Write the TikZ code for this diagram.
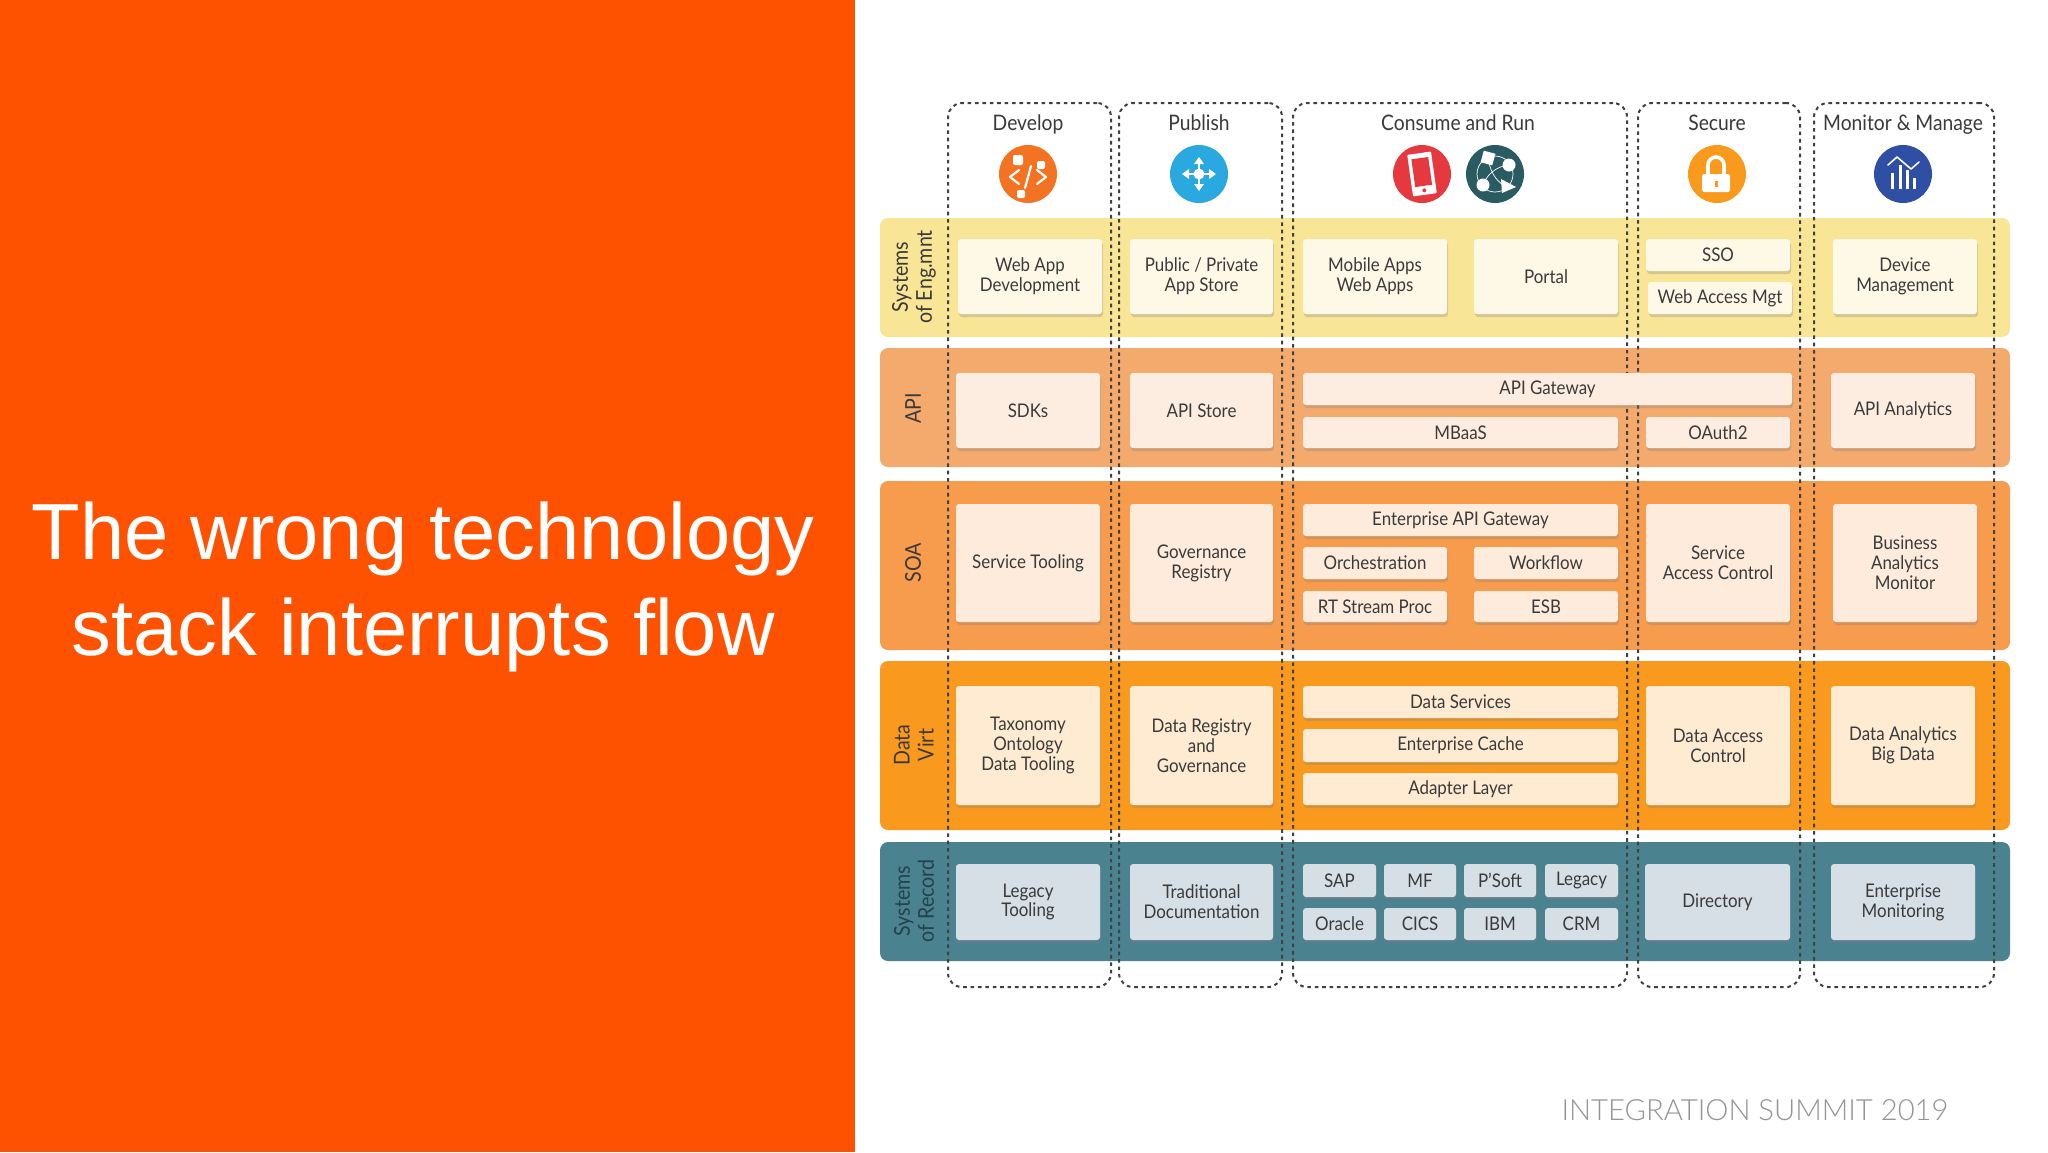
\documentclass[tikz,border=0pt]{standalone}
\usepackage{fontspec}
\setmainfont{Lato}[FakeStretch=0.9]
\newfontfamily\titlefont{Liberation Sans}
\newfontfamily\footfont{Lato Light}
\usetikzlibrary{shadows}
\definecolor{bgorange}{HTML}{FF5200}
\definecolor{ink}{HTML}{3A3A3A}
\definecolor{inkteal}{HTML}{24424C}
\definecolor{bandA}{HTML}{F9E596}
\definecolor{bandB}{HTML}{F4AA6C}
\definecolor{bandC}{HTML}{F79B4D}
\definecolor{bandD}{HTML}{F9991E}
\definecolor{bandE}{HTML}{4A8290}
\definecolor{boxA}{HTML}{FEF9E7}
\definecolor{boxB}{HTML}{FDEDE0}
\definecolor{boxC}{HTML}{FEEBDC}
\definecolor{boxD}{HTML}{FFEAD2}
\definecolor{boxE}{HTML}{D6DEE6}
\definecolor{discA}{HTML}{F47322}
\definecolor{discB}{HTML}{29A9E0}
\definecolor{discC}{HTML}{E6393F}
\definecolor{discD}{HTML}{2A5A62}
\definecolor{discE}{HTML}{F99A1C}
\definecolor{discF}{HTML}{2F4FA5}
\tikzset{
  bandrect/.style={draw=none,rounded corners=4pt,inner sep=0pt},
  colrect/.style={draw=black!75,line width=1pt,rounded corners=7pt,dash pattern=on 1.8pt off 1.9pt,inner sep=0pt},
  cellbox/.style={rounded corners=1.5pt,inner sep=0pt,align=center,text=ink,font=\fontsize{9.4}{9.9}\selectfont,
    drop shadow={shadow xshift=0.5pt,shadow yshift=-1.5pt,opacity=.3}},
  rowlabel/.style={rotate=90,align=center,text=ink,font=\fontsize{10.9}{12}\selectfont,inner sep=0pt},
  coltitle/.style={text=ink,font=\fontsize{10.7}{12}\selectfont,inner sep=0pt,anchor=base},
  disc/.style={circle,minimum size=29pt,inner sep=0pt},
  whiteline/.style={draw=white,line width=1.1pt,line cap=round,line join=round},
}
% name x1 y1 x2 y2 fill text
\newcommand{\cellnode}[7]{%
  \pgfmathsetmacro{\cxv}{(#2+#4)/2}\pgfmathsetmacro{\cyv}{(#3+#5)/2}%
  \pgfmathsetmacro{\wv}{(#4-#2)*0.5}\pgfmathsetmacro{\hv}{(#5-#3)*0.5}%
  \node[cellbox,fill=#6,minimum width=\wv pt,minimum height=\hv pt] (#1) at (\cxv,\cyv) {#7};}
\newcommand{\plainrect}[7]{%
  \pgfmathsetmacro{\cxv}{(#3+#5)/2}\pgfmathsetmacro{\cyv}{(#4+#6)/2}%
  \pgfmathsetmacro{\wv}{(#5-#3)*0.5}\pgfmathsetmacro{\hv}{(#6-#4)*0.5}%
  \node[#1,minimum width=\wv pt,minimum height=\hv pt,#7] (#2) at (\cxv,\cyv) {};}
\begin{document}
\begin{tikzpicture}[x=0.5pt,y=-0.5pt]
\useasboundingbox (0,0) rectangle (2048,1152);
\fill[white] (0,0) rectangle (2048,1152);
\fill[bgorange] (0,0) rectangle (855,1152);
\node[text=white,font=\titlefont\fontsize{39.8}{48}\selectfont,inner sep=0pt] (t1) at (423,539) {The wrong technology};
\node[text=white,font=\titlefont\fontsize{39.8}{48}\selectfont,inner sep=0pt] (t2) at (423,635) {stack interrupts flow};
\node[text=black!42,font=\footfont\fontsize{14.6}{18}\selectfont,inner sep=0pt] (foot) at (1755,1110) {INTEGRATION SUMMIT 2019};
% bands
\plainrect{bandrect}{bA}{880}{218}{2010}{337}{fill=bandA}
\plainrect{bandrect}{bB}{880}{348}{2010}{467}{fill=bandB}
\plainrect{bandrect}{bC}{880}{481}{2010}{650}{fill=bandC}
\plainrect{bandrect}{bD}{880}{661}{2010}{830}{fill=bandD}
\plainrect{bandrect}{bE}{880}{842}{2010}{961}{fill=bandE}
% columns
\plainrect{colrect}{cA}{948}{103}{1111}{987}{}
\plainrect{colrect}{cB}{1119}{103}{1282}{987}{}
\plainrect{colrect}{cC}{1293}{103}{1627}{987}{}
\plainrect{colrect}{cD}{1638}{103}{1800}{987}{}
\plainrect{colrect}{cE}{1814}{103}{1994}{987}{}
% titles
\node[coltitle] (h1) at (1028,130) {Develop};
\node[coltitle] (h2) at (1199,130) {Publish};
\node[coltitle] (h3) at (1458,130) {Consume and Run};
\node[coltitle] (h4) at (1717,130) {Secure};
\node[coltitle] (h5) at (1903,130) {Monitor \& Manage};
% row labels
\node[rowlabel] (r1) at (914,277) {Systems\\of Eng.mnt};
\node[rowlabel] (r2) at (913,408) {API};
\node[rowlabel] (r3) at (913,563) {SOA};
\node[rowlabel] (r4) at (914,745) {Data\\Virt};
\node[rowlabel,text=inkteal] (r5) at (914,901) {Systems\\of Record};
% row 1
\cellnode{a1}{958}{239}{1102}{314}{boxA}{Web App\\Development}
\cellnode{a2}{1130}{239}{1273}{314}{boxA}{Public / Private\\App Store}
\cellnode{a3}{1303}{239}{1447}{314}{boxA}{Mobile Apps\\Web Apps}
\cellnode{a4}{1474}{239}{1618}{314}{boxA}{Portal}
\cellnode{a5}{1646}{239}{1790}{271}{boxA}{SSO}
\cellnode{a6}{1648}{282}{1792}{314}{boxA}{Web Access Mgt}
\cellnode{a7}{1833}{239}{1977}{314}{boxA}{Device\\Management}
% row 2
\cellnode{b1}{956}{373}{1100}{448}{boxB}{SDKs}
\cellnode{b2}{1130}{373}{1273}{448}{boxB}{API Store}
\cellnode{b3}{1303}{373}{1792}{405}{boxB}{API Gateway}
\cellnode{b4}{1303}{417}{1618}{448}{boxB}{MBaaS}
\cellnode{b5}{1646}{417}{1790}{448}{boxB}{OAuth2}
\cellnode{b6}{1831}{373}{1975}{448}{boxB}{API Analytics}
% row 3
\cellnode{c1}{956}{504}{1100}{622}{boxC}{Service Tooling}
\cellnode{c2}{1130}{504}{1273}{622}{boxC}{Governance\\Registry}
\cellnode{c3}{1303}{504}{1618}{536}{boxC}{Enterprise API Gateway}
\cellnode{c4}{1303}{547}{1447}{579}{boxC}{Orchestration}
\cellnode{c5}{1474}{547}{1618}{579}{boxC}{Workflow}
\cellnode{c6}{1303}{591}{1447}{622}{boxC}{RT Stream Proc}
\cellnode{c7}{1474}{591}{1618}{622}{boxC}{ESB}
\cellnode{c8}{1646}{504}{1790}{622}{boxC}{Service\\Access Control}
\cellnode{c9}{1833}{504}{1977}{622}{boxC}{Business\\Analytics\\Monitor}
% row 4
\cellnode{d1}{956}{686}{1100}{805}{boxD}{Taxonomy\\Ontology\\Data Tooling}
\cellnode{d2}{1130}{686}{1273}{805}{boxD}{Data Registry\\and\\Governance}
\cellnode{d3}{1303}{686}{1618}{718}{boxD}{Data Services}
\cellnode{d4}{1303}{729}{1618}{762}{boxD}{Enterprise Cache}
\cellnode{d5}{1303}{773}{1618}{805}{boxD}{Adapter Layer}
\cellnode{d6}{1646}{686}{1790}{805}{boxD}{Data Access\\Control}
\cellnode{d7}{1831}{686}{1975}{805}{boxD}{Data Analytics\\Big Data}
% row 5
\cellnode{e1}{956}{864}{1100}{940}{boxE}{Legacy\\Tooling}
\cellnode{e2}{1130}{864}{1273}{940}{boxE}{Traditional\\Documentation}
\cellnode{e3}{1303}{864}{1376}{897}{boxE}{SAP}
\cellnode{e4}{1384}{864}{1456}{897}{boxE}{MF}
\cellnode{e5}{1464}{864}{1536}{897}{boxE}{P'Soft}
\cellnode{e6}{1545}{864}{1618}{897}{boxE}{Legacy}
\cellnode{e7}{1303}{908}{1376}{940}{boxE}{Oracle}
\cellnode{e8}{1384}{908}{1456}{940}{boxE}{CICS}
\cellnode{e9}{1464}{908}{1536}{940}{boxE}{IBM}
\cellnode{e10}{1545}{908}{1618}{940}{boxE}{CRM}
\cellnode{e11}{1645}{864}{1790}{940}{boxE}{Directory}
\cellnode{e12}{1831}{864}{1975}{940}{boxE}{Enterprise\\Monitoring}
% icons
\node[disc,fill=discA] (i1) at (1028,174) {};
\begin{scope}[shift={(1028,174)}]
  \fill[white,rounded corners=1pt] (-15,-19) rectangle (-5,-9);
  \fill[white,rounded corners=1pt] (9,-13) rectangle (17,-5);
  \fill[white,rounded corners=1pt] (-11,16) rectangle (-3,24);
  \draw[whiteline] (-9,-4) -- (-18,3) -- (-9,10);
  \draw[whiteline] (9,-4) -- (18,3) -- (9,10);
  \draw[whiteline] (3,-8) -- (-3,14);
\end{scope}
\node[disc,fill=discB] (i2) at (1199,174) {};
\begin{scope}[shift={(1199,174)}]
  \fill[white] (0,0) circle (5.5);
  \foreach \a in {0,90,180,270}{
    \begin{scope}[rotate=\a]
      \fill[white] (2,-1) rectangle (11,1);
      \fill[white] (10,-5) -- (17,0) -- (10,5) -- cycle;
    \end{scope}}
\end{scope}
\node[disc,fill=discC] (i3) at (1422,174) {};
\begin{scope}[shift={(1422,174)},rotate=8]
  \fill[white,rounded corners=.5pt] (-12,-21) rectangle (12,21);
  \fill[discC] (-8.5,-16) rectangle (8.5,12);
  \fill[discC] (0,16.5) circle (2);
\end{scope}
\node[disc,fill=discD] (i4) at (1495,174) {};
\begin{scope}[shift={(1495,174)}]
  \draw[white,line width=.35pt] (0,0) circle (18);
  \draw[white,line width=.35pt] (-7,-16) .. controls (-4,2) and (4,10) .. (13,13);
  \draw[white,line width=.35pt] (14,-9) .. controls (2,-8) and (-8,0) .. (-12,11);
  \fill[white,rotate around={-15:(-7,-16)}] (-13,-22) rectangle (-1,-10);
  \fill[white] (14,-9) circle (6.5);
  \fill[white] (-12,11) circle (6.5);
  \fill[white] (6,5) -- (21,13) -- (7,19) -- cycle;
\end{scope}
\node[disc,fill=discE] (i5) at (1717,174) {};
\begin{scope}[shift={(1717,174)}]
  \draw[white,line width=1.8pt] (-9,2) -- (-9,-9) arc (180:360:8) -- (7,2);
  \fill[white,rounded corners=1.2pt] (-15,0) rectangle (13,18);
  \fill[discE] (-2.5,7) rectangle (0.5,13);
\end{scope}
\node[disc,fill=discF] (i6) at (1903,174) {};
\begin{scope}[shift={(1903,174)}]
  \fill[white] (-12.5,-1) rectangle (-9.5,15);
  \fill[white] (-4.5,-9) rectangle (-1.5,15);
  \fill[white] (2.5,-4) rectangle (5.5,15);
  \fill[white] (9.5,4) rectangle (12.5,15);
  \draw[whiteline,line width=.8pt] (-15,-9) -- (-6,-17) -- (8,-5) -- (16,-12);
\end{scope}
\end{tikzpicture}
\end{document}
